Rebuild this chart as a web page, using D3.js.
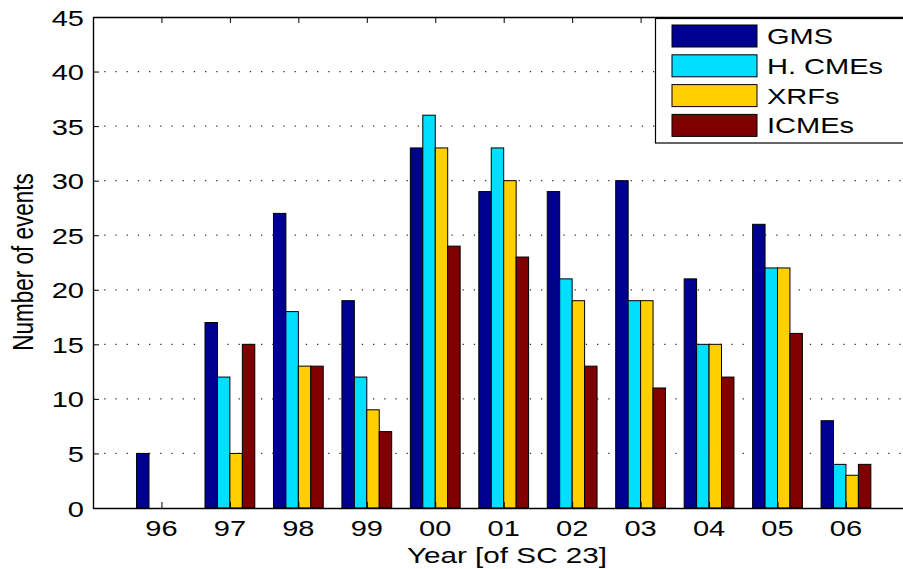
<!DOCTYPE html>
<html>
<head>
<meta charset="utf-8">
<script src="https://cdn.jsdelivr.net/npm/d3@7"></script>
<style>
  html, body { margin: 0; padding: 0; background: #fff; }
  svg { display: block; }
  text { font-family: "Liberation Sans", Arial, Helvetica, sans-serif; fill: #000; }
</style>
</head>
<body>
<svg id="chart" width="903" height="569"></svg>
<script>
// Yearly event counts over solar cycle 23
const years = ["96", "97", "98", "99", "00", "01", "02", "03", "04", "05", "06"];
const seriesNames = ["GMS", "H. CMEs", "XRFs", "ICMEs"];
const gms    = [5, 17, 27, 19, 33, 29, 29, 30, 21, 26, 8];
const hcmes  = [0, 12, 18, 12, 36, 33, 21, 19, 15, 22, 4];
const xrfs   = [0, 5, 13, 9, 33, 30, 19, 19, 15, 22, 3];
const icmes  = [0, 15, 13, 7, 24, 23, 13, 11, 12, 16, 4];
const yTicks = [0, 5, 10, 15, 20, 25, 30, 35, 40, 45];
const colors = ["#000090", "#00DFFF", "#FFCF00", "#800000"];

const series = [gms, hcmes, xrfs, icmes];

const svg = d3.select("#chart");
const plotL = 93, plotT = 17, plotB = 508;
const unit = 68.45;                       // pixels per group slot
const plotR = plotL + 12 * unit;          // axes box runs past the window edge
const stretch = 1.32;                     // horizontal stretch applied to all text
const fontSize = 22;

// group index 1..11 on a continuous axis from 0 to 12
const x = d3.scaleLinear().domain([0, 12]).range([plotL, plotR]);
const y = d3.scaleLinear().domain([0, 45]).range([plotB, plotT]);

const groupWidth = 4 / 5.5;               // fraction of a slot used by one group
const barW = groupWidth / series.length;

// dotted horizontal grid
svg.append("g")
  .selectAll("line")
  .data(yTicks.filter(t => t > 0 && t < 45))
  .join("line")
  .attr("x1", plotL).attr("x2", plotR)
  .attr("y1", d => y(d)).attr("y2", d => y(d))
  .attr("stroke", "#333")
  .attr("stroke-width", 1.3)
  .attr("stroke-dasharray", "1.3,9.9");

// bars
const barsG = svg.append("g");
series.forEach((vals, s) => {
  barsG.append("g")
    .selectAll("rect")
    .data(vals.map((v, i) => ({ v, i })).filter(d => d.v > 0))
    .join("rect")
    .attr("x", d => x(d.i + 1 - groupWidth / 2 + s * barW))
    .attr("width", x(barW) - x(0))
    .attr("y", d => y(d.v))
    .attr("height", d => y(0) - y(d.v))
    .attr("fill", colors[s])
    .attr("stroke", "#000")
    .attr("stroke-width", 1);
});

// axes box with inward ticks
const tickLen = 6;
const axBottom = d3.axisBottom(x).tickValues(d3.range(1, 12)).tickSize(-tickLen).tickFormat("");
const axTop = d3.axisTop(x).tickValues(d3.range(1, 12)).tickSize(-tickLen).tickFormat("");
const axLeft = d3.axisLeft(y).tickValues(yTicks).tickSize(-tickLen).tickFormat("");
const axRight = d3.axisRight(y).tickValues(yTicks).tickSize(-tickLen).tickFormat("");

function styleAxis(g) {
  g.selectAll("path.domain").attr("stroke", "#000").attr("stroke-width", 1.4);
  g.selectAll(".tick line").attr("stroke", "#000").attr("stroke-width", 1);
}
svg.append("g").attr("transform", `translate(0,${plotB})`).call(axBottom.tickSizeOuter(0)).call(styleAxis);
svg.append("g").attr("transform", `translate(0,${plotT})`).call(axTop.tickSizeOuter(0)).call(styleAxis);
svg.append("g").attr("transform", `translate(${plotL},0)`).call(axLeft.tickSizeOuter(0)).call(styleAxis);
svg.append("g").attr("transform", `translate(${plotR},0)`).call(axRight.tickSizeOuter(0)).call(styleAxis);

// tick labels (stretched horizontally)
svg.append("g")
  .selectAll("text")
  .data(yTicks)
  .join("text")
  .attr("transform", d => `translate(84,${y(d) + 8.6}) scale(${stretch},1)`)
  .attr("text-anchor", "end")
  .attr("font-size", fontSize)
  .text(d => d);

svg.append("g")
  .selectAll("text")
  .data(years)
  .join("text")
  .attr("transform", (d, i) => `translate(${x(i + 1)},536) scale(${stretch},1)`)
  .attr("text-anchor", "middle")
  .attr("font-size", fontSize)
  .text(d => d);

// axis titles
svg.append("text")
  .attr("transform", `translate(507,563) scale(${stretch},1)`)
  .attr("text-anchor", "middle")
  .attr("font-size", 22.5)
  .text("Year [of SC 23]");

svg.append("text")
  .attr("transform", `translate(33,262) scale(${stretch},1) rotate(-90)`)
  .attr("text-anchor", "middle")
  .attr("font-size", 22.5)
  .text("Number of events");

// legend
const legend = svg.append("g");
legend.append("rect")
  .attr("x", 655.5).attr("y", 18.5)
  .attr("width", 300).attr("height", 124.5)
  .attr("fill", "#fff")
  .attr("stroke", "#000")
  .attr("stroke-width", 1.2);
seriesNames.forEach((name, s) => {
  const cy = 36 + s * 29.8;
  legend.append("rect")
    .attr("x", 672).attr("y", cy - 11)
    .attr("width", 85).attr("height", 22)
    .attr("fill", colors[s])
    .attr("stroke", "#000")
    .attr("stroke-width", 1);
  legend.append("text")
    .attr("transform", `translate(767,${cy + 8}) scale(${stretch},1)`)
    .attr("font-size", fontSize)
    .text(name);
});
</script>
</body>
</html>
